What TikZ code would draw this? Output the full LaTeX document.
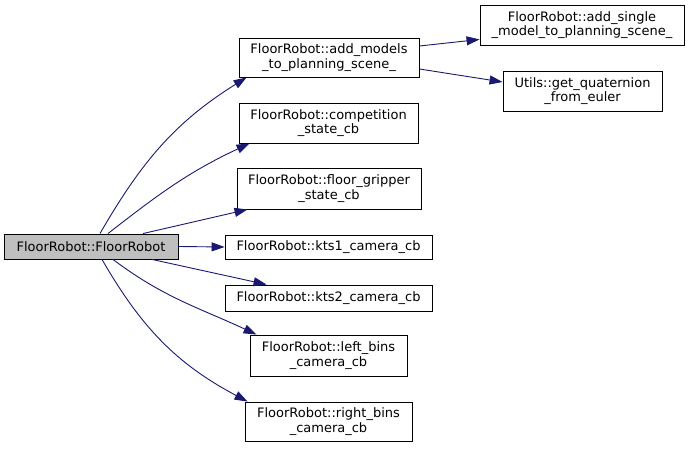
\documentclass[tikz,border=0pt]{standalone}
\usepackage{fontspec}
\setmainfont{DejaVu Sans}
\usetikzlibrary{arrows.meta}

\definecolor{edgeblue}{HTML}{191970}
\definecolor{callergray}{HTML}{BFBFBF}

\begin{document}
\begin{tikzpicture}[x=1pt, y=1pt, >={Triangle[length=13pt, width=9pt]},
        func/.style={draw=black, line width=0.9pt, fill=white, align=center,
            inner sep=0pt, font=\fontsize{13}{14.5}\selectfont},
        call/.style={->, draw=edgeblue, line width=0.9pt}]
    \useasboundingbox (0,0) rectangle (691,448);

    % Caller
    \node[func, fill=callergray, minimum width=174, minimum height=25] (fr) at (91,201.5) {FloorRobot::FloorRobot};

    % Direct callees
    \node[func, minimum width=180, minimum height=39] (addmodels) at (329,390.5) {FloorRobot::add\_models\\\_to\_planning\_scene\_};
    \node[func, minimum width=179, minimum height=40] (compstate) at (328.5,325) {FloorRobot::competition\\\_state\_cb};
    \node[func, minimum width=184, minimum height=41] (gripstate) at (329,259.5) {FloorRobot::floor\_gripper\\\_state\_cb};
    \node[func, minimum width=207, minimum height=24] (kts1) at (328.5,201) {FloorRobot::kts1\_camera\_cb};
    \node[func, minimum width=207, minimum height=26] (kts2) at (328.5,150) {FloorRobot::kts2\_camera\_cb};
    \node[func, minimum width=157, minimum height=41] (leftbins) at (328.5,92.5) {FloorRobot::left\_bins\\\_camera\_cb};
    \node[func, minimum width=167, minimum height=39] (rightbins) at (328.5,26.5) {FloorRobot::right\_bins\\\_camera\_cb};

    % Second level
    \node[func, minimum width=204, minimum height=40] (addsingle) at (582,423) {FloorRobot::add\_single\\\_model\_to\_planning\_scene\_};
    \node[func, minimum width=159, minimum height=40] (quat) at (582.5,357) {Utils::get\_quaternion\\\_from\_euler};

    % Calls from the constructor
    \draw[call] ([xshift=9]fr.north) to[out=60, in=-148] ([xshift=8]addmodels.south west);
    \draw[call] ([xshift=17]fr.north) to[out=38, in=-155] ([xshift=11]compstate.south west);
    \draw[call] ([xshift=52]fr.north) -- ([xshift=11]gripstate.south west);
    \draw[call] (fr.east) -- (kts1.west);
    \draw[call] ([xshift=61]fr.south) -- ([xshift=42]kts2.north west);
    \draw[call] ([xshift=22]fr.south) to[out=-37, in=155] ([xshift=7]leftbins.north west);
    \draw[call] ([xshift=11]fr.south) to[out=-60, in=152] ([xshift=3]rightbins.north west);

    % Calls from add_models_to_planning_scene_
    \draw[call] ([yshift=11.5]addmodels.east) -- ([yshift=6]addsingle.south west);
    \draw[call] ([yshift=-11.5]addmodels.east) -- ([yshift=9]quat.west);
\end{tikzpicture}
\end{document}
